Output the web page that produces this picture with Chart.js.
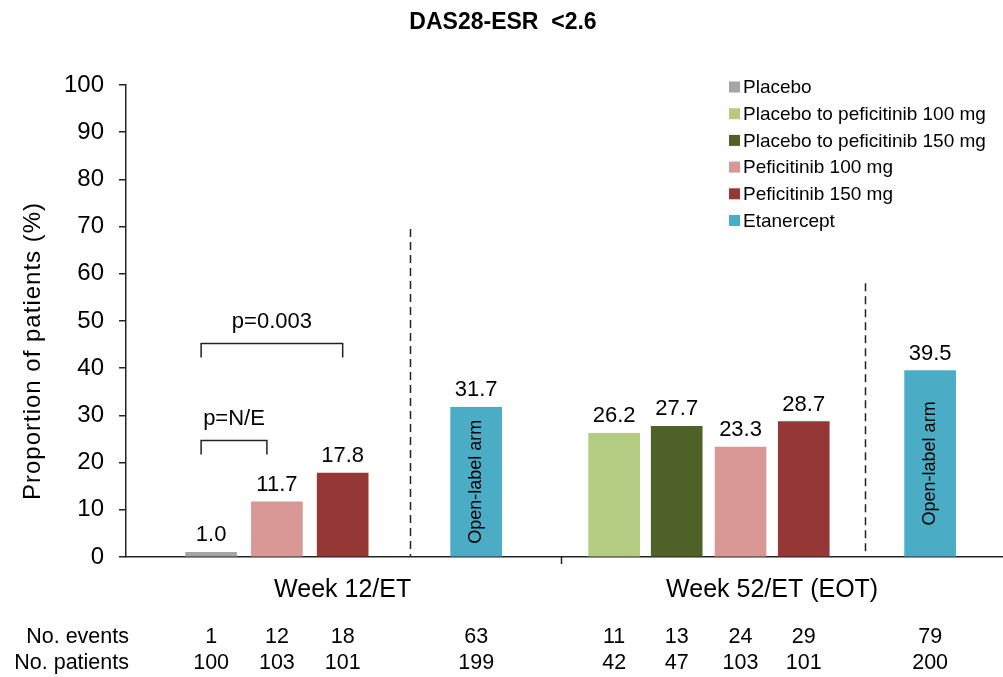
<!DOCTYPE html>
<html>
<head>
<meta charset="utf-8">
<script src="https://cdn.jsdelivr.net/npm/chart.js@4.4.0/dist/chart.umd.min.js"></script>
<style>
  html, body { margin: 0; padding: 0; background: #fff; }
</style>
</head>
<body>
<canvas id="chart" width="1003" height="677"></canvas>
<script>
const timepoints = ['Week 12/ET', 'Week 52/ET (EOT)'];
const seriesNames = ['Placebo', 'Placebo to peficitinib 100 mg', 'Placebo to peficitinib 150 mg',
  'Peficitinib 100 mg', 'Peficitinib 150 mg', 'Etanercept'];

// % of patients reaching DAS28-ESR <2.6, one value per timepoint
const placebo = [1.0, null];
const placeboToPef100 = [null, 26.2];
const placeboToPef150 = [null, 27.7];
const pef100 = [11.7, 23.3];
const pef150 = [17.8, 28.7];
const etanercept = [31.7, 39.5];

// table under the chart, indexed like seriesNames
const eventsWeek12 = [1, null, null, 12, 18, 63];
const eventsWeek52 = [null, 11, 13, 24, 29, 79];
const patientsWeek12 = [100, null, null, 103, 101, 199];
const patientsWeek52 = [null, 42, 47, 103, 101, 200];

const pLabels = ['p=N/E', 'p=0.003'];

// layout: where each bar sits on the x scale (in bar pitches)
const slotWeek12 = [1.32, null, null, 2.34, 3.36, 5.43];
const slotWeek52 = [null, 7.57, 8.54, 9.53, 10.51, 12.47];
const dashedAt = [4.40, 11.46];
const dashedTop = [69.5, 58.0];
const groupSplit = 6.74;
const groupCenter = [3.36, 10.02];

const colors = ['#a5a5a5', '#b3cc82', '#4f6228', '#d99795', '#953735', '#4bacc6'];
const seriesValues = [placebo, placeboToPef100, placeboToPef150, pef100, pef150, etanercept];
const slots = [slotWeek12, slotWeek52];

const FONT = '"Liberation Sans", Arial, sans-serif';
Chart.defaults.font.family = FONT;
Chart.defaults.color = '#000';

const datasets = seriesNames.map((name, s) => ({
  label: name,
  data: timepoints.map((t, i) => seriesValues[s][i] == null ? null : { x: slots[i][s], y: seriesValues[s][i] })
    .filter(d => d !== null),
  backgroundColor: colors[s],
  barThickness: 51,
  grouped: false
}));

const overlay = {
  id: 'overlay',
  afterDraw(chart) {
    const { ctx, chartArea: area, scales: { x, y } } = chart;
    const metas = chart.data.datasets.map((d, i) => chart.getDatasetMeta(i));
    ctx.save();
    ctx.fillStyle = '#000';
    ctx.strokeStyle = '#222';

    // title
    ctx.font = 'bold 23px ' + FONT;
    ctx.textAlign = 'center';
    ctx.textBaseline = 'alphabetic';
    ctx.fillText('DAS28-ESR  <2.6', 503, 29);

    // y axis title
    ctx.save();
    ctx.font = '24px ' + FONT;
    ctx.letterSpacing = '1px';
    ctx.textBaseline = 'middle';
    ctx.translate(33, 351);
    ctx.rotate(-Math.PI / 2);
    ctx.fillText('Proportion of patients (%)', 0, 0);
    ctx.restore();

    // value labels
    ctx.font = '22px ' + FONT;
    metas.forEach((meta, s) => {
      meta.data.forEach((el, j) => {
        const v = chart.data.datasets[s].data[j].y;
        ctx.fillText(v.toFixed(1), el.x, el.y - 11);
      });
    });

    // open-label text inside the etanercept bars
    ctx.font = '18px ' + FONT;
    ctx.textBaseline = 'middle';
    metas[5].data.forEach(el => {
      ctx.save();
      ctx.translate(el.x, (el.y + el.base) / 2);
      ctx.rotate(-Math.PI / 2);
      ctx.fillText('Open-label arm', 0, 0);
      ctx.restore();
    });

    // dashed separators
    ctx.lineWidth = 1.5;
    ctx.setLineDash([8, 5]);
    dashedAt.forEach((d, i) => {
      const px = Math.round(x.getPixelForValue(d)) + 0.5;
      ctx.beginPath();
      ctx.moveTo(px, y.getPixelForValue(dashedTop[i]));
      ctx.lineTo(px, area.bottom);
      ctx.stroke();
    });
    ctx.setLineDash([]);

    // group split tick on the x axis
    const sx = Math.round(x.getPixelForValue(groupSplit)) + 0.5;
    ctx.beginPath();
    ctx.moveTo(sx, area.bottom);
    ctx.lineTo(sx, area.bottom + 7);
    ctx.stroke();

    // significance brackets
    const plX = metas[0].data[0].x - 10;
    const brackets = [
      { x1: plX, x2: metas[3].data[0].x - 10, level: 24.8 },
      { x1: plX, x2: metas[4].data[0].x, level: 45.3 }
    ];
    ctx.font = '22px ' + FONT;
    ctx.textBaseline = 'alphabetic';
    brackets.forEach((b, i) => {
      const by = Math.round(y.getPixelForValue(b.level)) + 0.5;
      ctx.beginPath();
      ctx.moveTo(b.x1, by + 14);
      ctx.lineTo(b.x1, by);
      ctx.lineTo(b.x2, by);
      ctx.lineTo(b.x2, by + 14);
      ctx.stroke();
      ctx.fillText(pLabels[i], (b.x1 + b.x2) / 2, by - 16);
    });

    // legend
    ctx.font = '19px ' + FONT;
    ctx.textAlign = 'left';
    ctx.textBaseline = 'middle';
    seriesNames.forEach((name, i) => {
      const cy = 87 + i * 26.7;
      ctx.fillStyle = colors[i];
      ctx.fillRect(729, cy - 5.5, 11, 11);
      ctx.fillStyle = '#000';
      ctx.fillText(name, 743, cy + 1);
    });

    // timepoint labels
    ctx.font = '25px ' + FONT;
    ctx.textAlign = 'center';
    ctx.textBaseline = 'alphabetic';
    timepoints.forEach((t, i) => ctx.fillText(t, x.getPixelForValue(groupCenter[i]), 597));

    // events / patients table
    ctx.font = '21.5px ' + FONT;
    ctx.textAlign = 'right';
    ctx.fillText('No. events', 129, 643);
    ctx.fillText('No. patients', 129, 669);
    ctx.textAlign = 'center';
    const rows = [[eventsWeek12, eventsWeek52, 643], [patientsWeek12, patientsWeek52, 669]];
    rows.forEach(([w12, w52, base]) => {
      [w12, w52].forEach((vals, i) => {
        vals.forEach((v, s) => {
          if (v == null) return;
          ctx.fillText(String(v), x.getPixelForValue(slots[i][s]), base);
        });
      });
    });
    ctx.restore();
  }
};

new Chart(document.getElementById('chart'), {
  type: 'bar',
  data: { datasets },
  options: {
    responsive: false,
    devicePixelRatio: 1,
    animation: false,
    layout: { padding: { top: 85, right: 0, bottom: 0, left: 0 } },
    plugins: { legend: { display: false }, tooltip: { enabled: false } },
    scales: {
      x: {
        type: 'linear',
        min: 0,
        max: 13.6,
        offset: false,
        grid: { display: false },
        border: { display: true, color: '#222', width: 1.5 },
        ticks: { display: false },
        afterFit(scale) { scale.height = 120; }
      },
      y: {
        min: 0,
        max: 100,
        ticks: { stepSize: 10, padding: 15, font: { size: 24 }, color: '#000' },
        grid: { drawOnChartArea: false, tickLength: 7, color: '#222', lineWidth: 1.5 },
        border: { display: true, color: '#222', width: 1.5 },
        afterFit(scale) { scale.width = 126; }
      }
    }
  },
  plugins: [overlay]
});
</script>
</body>
</html>
